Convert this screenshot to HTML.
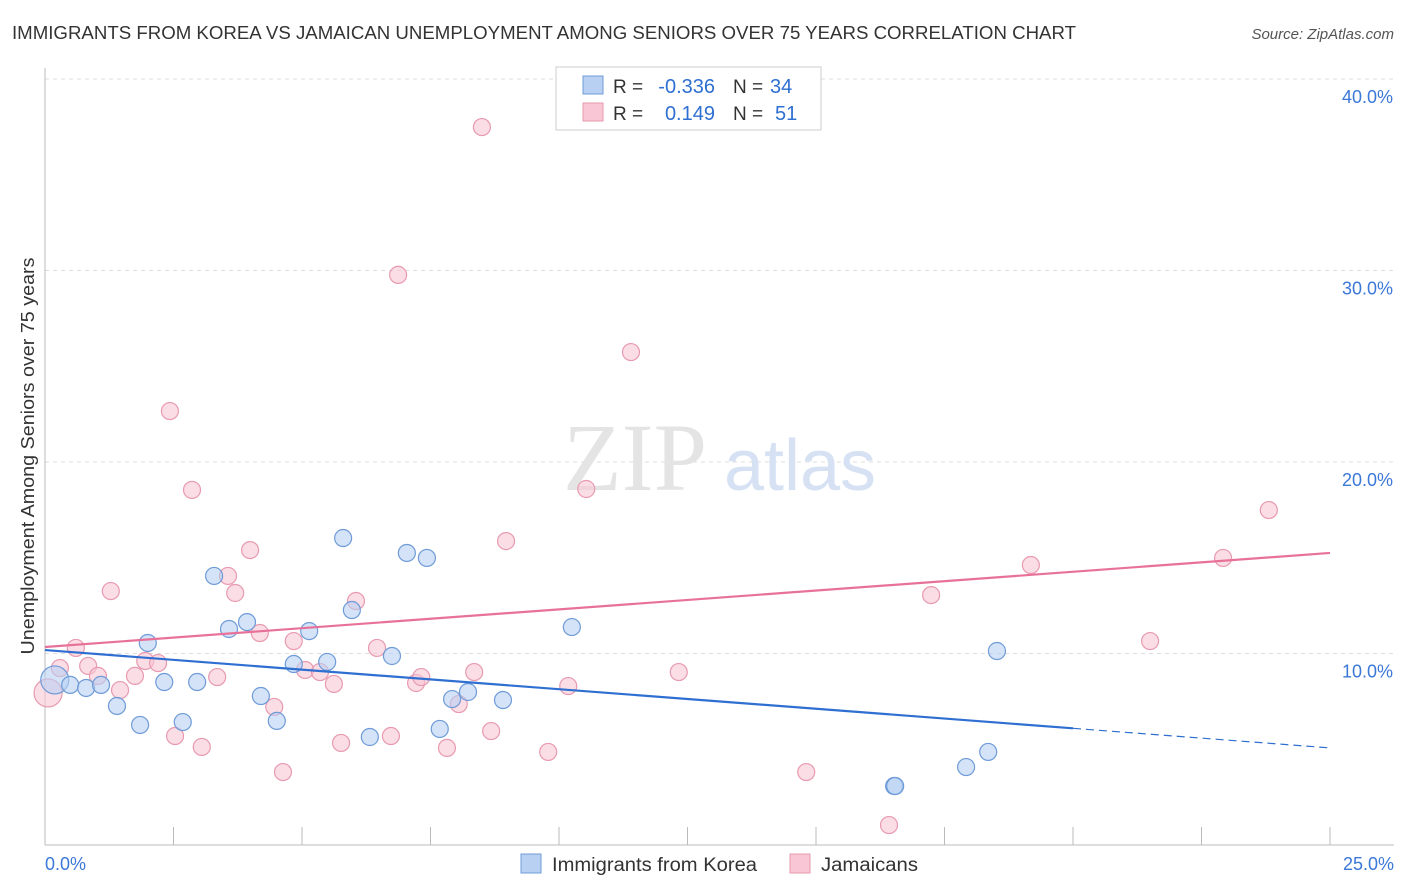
<!DOCTYPE html>
<html><head><meta charset="utf-8"><style>
body{margin:0;background:#fff;font-family:"Liberation Sans",sans-serif;}
svg{display:block}
</style></head><body>
<svg id="chart" width="1406" height="892" xmlns="http://www.w3.org/2000/svg">
<text x="12" y="39" font-size="18" textLength="1064" lengthAdjust="spacingAndGlyphs" fill="#333">IMMIGRANTS FROM KOREA VS JAMAICAN UNEMPLOYMENT AMONG SENIORS OVER 75 YEARS CORRELATION CHART</text>
<text x="1394" y="39" font-size="15" fill="#555" font-style="italic" text-anchor="end">Source: ZipAtlas.com</text>
<g id="grid"></g>
<text x="635" y="490" font-size="96" fill="#e4e4e4" font-family="Liberation Serif,serif" text-anchor="middle">ZIP</text>
<text x="800" y="490" font-size="72" fill="#d6e2f3" text-anchor="middle">atlas</text>
<g id="marks"></g>
<text transform="translate(34,456) rotate(-90)" font-size="18" textLength="397" lengthAdjust="spacingAndGlyphs" fill="#333" text-anchor="middle">Unemployment Among Seniors over 75 years</text>
<g>
<rect x="556" y="67" width="265" height="63" fill="#fff" stroke="#ccc"/>
<rect x="583" y="76" width="20" height="18" fill="#b8d0f2" stroke="#6f9bd8"/>
<rect x="583" y="103" width="20" height="18" fill="#f8c6d4" stroke="#e89ab0"/>
<text x="613" y="93" font-size="19" fill="#333">R =</text>
<text x="715" y="93" font-size="20" fill="#2e6fd1" text-anchor="end">-0.336</text>
<text x="733" y="93" font-size="19" fill="#333">N =</text>
<text x="770" y="93" font-size="20" fill="#2e6fd1">34</text>
<text x="613" y="120" font-size="19" fill="#333">R =</text>
<text x="715" y="120" font-size="20" fill="#2e6fd1" text-anchor="end">0.149</text>
<text x="733" y="120" font-size="19" fill="#333">N =</text>
<text x="775" y="120" font-size="20" fill="#2e6fd1">51</text>
</g>
<g>
<rect x="521" y="854" width="20" height="19" fill="#b8d0f2" stroke="#6f9bd8"/>
<text x="552" y="871" font-size="19" textLength="205" lengthAdjust="spacingAndGlyphs" fill="#333">Immigrants from Korea</text>
<rect x="790" y="854" width="20" height="19" fill="#f8c6d4" stroke="#e89ab0"/>
<text x="821" y="871" font-size="19" textLength="97" lengthAdjust="spacingAndGlyphs" fill="#333">Jamaicans</text>
</g>
</svg>
<script>
const yTicks=[10,20,30,40];
const xTickLabels=["0.0%","25.0%"];
const blueX=[0.19,0.49,0.80,1.09,1.40,1.85,2.00,2.32,2.68,2.96,3.29,3.58,3.93,4.20,4.51,4.84,5.14,5.49,5.80,5.97,6.32,6.75,7.04,7.43,7.68,7.92,8.23,8.91,10.25,16.52,16.54,17.92,18.35,18.52];
const blueY=[8.62,8.36,8.20,8.36,7.26,6.27,10.55,8.51,6.42,8.51,14.05,11.28,11.64,7.78,6.48,9.45,11.17,9.56,16.03,12.27,5.64,9.87,15.25,14.99,6.06,7.62,7.99,7.57,11.38,3.08,3.08,4.07,4.86,10.13];
const pinkX=[0.06,0.29,0.60,0.84,1.03,1.28,1.46,1.75,1.95,2.20,2.43,2.53,2.86,3.05,3.35,3.56,3.70,3.99,4.18,4.46,4.63,4.84,5.06,5.35,5.62,5.76,6.05,6.46,6.73,6.87,7.22,7.32,7.82,8.05,8.35,8.50,8.68,8.97,9.79,10.18,10.53,10.89,11.40,12.33,14.81,16.42,17.24,19.18,21.50,22.92,23.81];
const pinkY=[7.94,9.24,10.29,9.35,8.83,13.26,8.09,8.83,9.61,9.50,22.66,5.69,18.54,5.12,8.77,14.05,13.16,15.40,11.07,7.21,3.81,10.65,9.14,9.03,8.41,5.33,12.74,10.29,5.69,29.77,8.46,8.77,5.07,7.36,9.03,37.49,5.95,15.87,4.86,8.30,18.59,38.28,25.74,9.03,3.81,1.04,13.05,14.62,10.65,14.99,17.49];
const blueLine=[10.18,5.07];
const pinkLine=[10.34,15.25];
const NS="http://www.w3.org/2000/svg";
const sx=v=>45+v*(1285/25);
const sy=v=>845-v*19.15;
function mk(t,a,p){const e=document.createElementNS(NS,t);for(const k in a)e.setAttribute(k,a[k]);p.appendChild(e);return e;}
const grid=document.getElementById('grid'),marks=document.getElementById('marks');
yTicks.forEach(t=>{
 const l=mk('line',{x1:45,x2:1394,y1:sy(t),y2:sy(t),stroke:'#ddd','stroke-dasharray':'4,4'},grid);
 
 
 const tx=mk('text',{x:1393,y:sy(t)+24,'font-size':18,fill:'#3b78d8','text-anchor':'end'},grid);
 tx.textContent=t.toFixed(1)+'%';
 
 
});
mk('line',{x1:45,x2:45,y1:68,y2:845,stroke:'#bbb'},grid);
const xa=mk('line',{x1:45,x2:1394,y1:845,y2:845,stroke:'#bbb'},grid);


for(let i=0;i<=10;i++){mk('line',{x1:sx(i*2.5),x2:sx(i*2.5),y1:827,y2:845,stroke:'#bbb'},grid);}
[[0,'start',45],[25,'end',1394]].forEach((d,i)=>{
 const tx=mk('text',{x:d[2],y:870,'font-size':18,fill:'#3b78d8','text-anchor':d[1]},grid);
 tx.textContent=xTickLabels[i];
 
 
});
function dots(X,Y,fill,stroke,name){
 X.forEach((x,i)=>{
  const r=i===0?14:8.5;
  const c=mk('circle',{cx:sx(x),cy:sy(Y[i]),r:r,fill:fill,'fill-opacity':0.6,stroke:stroke,'stroke-width':1.2},marks);
  
  
 });
}
dots(pinkX,pinkY,'#f8c6d4','#e89ab0','jamaicans-point');
dots(blueX,blueY,'#b8d0f2','#6f9bd8','korea-point');
const bAt=x=>blueLine[0]+(blueLine[1]-blueLine[0])*x/25;
const pAt=x=>pinkLine[0]+(pinkLine[1]-pinkLine[0])*x/25;
const b1=mk('line',{x1:sx(0),y1:sy(bAt(0)),x2:sx(20),y2:sy(bAt(20)),stroke:'#2e6fd1','stroke-width':2.2},marks);


const b2=mk('line',{x1:sx(20),y1:sy(bAt(20)),x2:sx(25),y2:sy(bAt(25)),stroke:'#2e6fd1','stroke-width':1.2,'stroke-dasharray':'8,5'},marks);


const p1=mk('line',{x1:sx(0),y1:sy(pAt(0)),x2:sx(25),y2:sy(pAt(25)),stroke:'#e8719a','stroke-width':2.2},marks);


</script>
</body></html>
